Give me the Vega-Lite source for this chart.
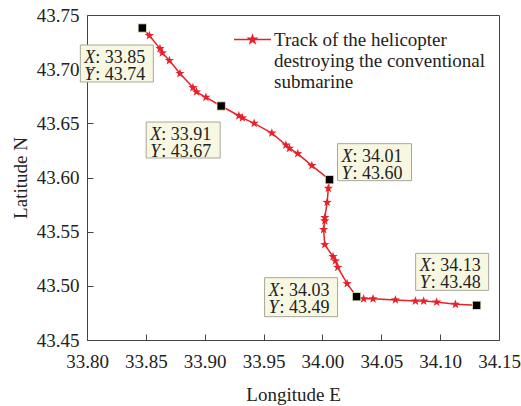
{
  "$schema": "https://vega.github.io/schema/vega-lite/v6.json",
  "width": 412,
  "height": 325,
  "autosize": {"type": "none"},
  "padding": {"left": 87, "top": 15, "right": 22, "bottom": 66},
  "background": "white",
  "data": {
    "values": [
      {"order": 1, "lon": 33.847, "lat": 43.738, "kind": "square", "id": 1, "series": "Track"},
      {"order": 2, "lon": 33.853, "lat": 43.731, "kind": "star", "series": "Track"},
      {"order": 3, "lon": 33.862, "lat": 43.719, "kind": "star", "series": "Track"},
      {"order": 4, "lon": 33.864, "lat": 43.715, "kind": "star", "series": "Track"},
      {"order": 5, "lon": 33.870, "lat": 43.708, "kind": "star", "series": "Track"},
      {"order": 6, "lon": 33.879, "lat": 43.696, "kind": "star", "series": "Track"},
      {"order": 7, "lon": 33.890, "lat": 43.683, "kind": "star", "series": "Track"},
      {"order": 8, "lon": 33.893, "lat": 43.679, "kind": "star", "series": "Track"},
      {"order": 9, "lon": 33.901, "lat": 43.674, "kind": "star", "series": "Track"},
      {"order": 10, "lon": 33.914, "lat": 43.666, "kind": "square", "id": 2, "series": "Track"},
      {"order": 11, "lon": 33.929, "lat": 43.657, "kind": "star", "series": "Track"},
      {"order": 12, "lon": 33.932, "lat": 43.655, "kind": "star", "series": "Track"},
      {"order": 13, "lon": 33.942, "lat": 43.650, "kind": "star", "series": "Track"},
      {"order": 14, "lon": 33.957, "lat": 43.641, "kind": "star", "series": "Track"},
      {"order": 15, "lon": 33.969, "lat": 43.630, "kind": "star", "series": "Track"},
      {"order": 16, "lon": 33.972, "lat": 43.627, "kind": "star", "series": "Track"},
      {"order": 17, "lon": 33.979, "lat": 43.622, "kind": "star", "series": "Track"},
      {"order": 18, "lon": 33.991, "lat": 43.611, "kind": "star", "series": "Track"},
      {"order": 19, "lon": 34.006, "lat": 43.598, "kind": "square", "id": 3, "series": "Track"},
      {"order": 20, "lon": 34.005, "lat": 43.590, "kind": "star", "series": "Track"},
      {"order": 21, "lon": 34.004, "lat": 43.577, "kind": "star", "series": "Track"},
      {"order": 22, "lon": 34.002, "lat": 43.563, "kind": "star", "series": "Track"},
      {"order": 23, "lon": 34.002, "lat": 43.560, "kind": "star", "series": "Track"},
      {"order": 24, "lon": 34.001, "lat": 43.552, "kind": "star", "series": "Track"},
      {"order": 25, "lon": 34.002, "lat": 43.538, "kind": "star", "series": "Track"},
      {"order": 26, "lon": 34.009, "lat": 43.527, "kind": "star", "series": "Track"},
      {"order": 27, "lon": 34.011, "lat": 43.523, "kind": "star", "series": "Track"},
      {"order": 28, "lon": 34.013, "lat": 43.517, "kind": "star", "series": "Track"},
      {"order": 29, "lon": 34.021, "lat": 43.502, "kind": "star", "series": "Track"},
      {"order": 30, "lon": 34.029, "lat": 43.490, "kind": "square", "id": 4, "series": "Track"},
      {"order": 31, "lon": 34.035, "lat": 43.488, "kind": "star", "series": "Track"},
      {"order": 32, "lon": 34.043, "lat": 43.488, "kind": "star", "series": "Track"},
      {"order": 33, "lon": 34.062, "lat": 43.487, "kind": "star", "series": "Track"},
      {"order": 34, "lon": 34.079, "lat": 43.486, "kind": "star", "series": "Track"},
      {"order": 35, "lon": 34.086, "lat": 43.486, "kind": "star", "series": "Track"},
      {"order": 36, "lon": 34.097, "lat": 43.485, "kind": "star", "series": "Track"},
      {"order": 37, "lon": 34.113, "lat": 43.483, "kind": "star", "series": "Track"},
      {"order": 38, "lon": 34.131, "lat": 43.482, "kind": "square", "id": 5, "series": "Track"}
    ]
  },
  "encoding": {
    "x": {
      "field": "lon", "type": "quantitative",
      "scale": {"domain": [33.8, 34.15], "nice": false, "zero": false},
      "axis": {"title": "Longitude E", "values": [33.8, 33.85, 33.9, 33.95, 34.0, 34.05, 34.1, 34.15], "format": ".2f",
        "titlePadding": 14, "labelOverlap": false, "labelFlush": false, "labelPadding": 12,
        "offset": -6, "domain": false, "ticks": true, "tickSize": 6, "tickWidth": 1, "tickColor": "#444", "zindex": 1}
    },
    "y": {
      "field": "lat", "type": "quantitative",
      "scale": {"domain": [43.45, 43.75], "nice": false, "zero": false},
      "axis": {"title": "Latitude N", "values": [43.45, 43.5, 43.55, 43.6, 43.65, 43.7, 43.75], "format": ".2f",
        "titlePadding": 6, "labelOverlap": false, "labelFlush": false, "labelPadding": 8,
        "offset": -6, "domain": false, "ticks": true, "tickSize": 6, "tickWidth": 1, "tickColor": "#444", "zindex": 1}
    }
  },
  "layer": [
    {
      "mark": {"type": "line", "color": "#e8202a", "strokeWidth": 1.5},
      "encoding": {"order": {"field": "order", "type": "quantitative"}}
    },
    {
      "transform": [{"filter": "datum.kind == 'star'"}],
      "mark": {"type": "point", "filled": true, "opacity": 1, "style": "star"},
      "encoding": {
        "color": {
          "field": "series", "type": "nominal",
          "scale": {"range": ["#e8202a"]},
          "legend": {
            "orient": "none", "legendX": 146, "legendY": 5, "title": null, "padding": 0,
            "symbolType": "M-1,0L1,0M0,-0.22L0.052,-0.071L0.209,-0.068L0.084,0.027L0.129,0.178L0,0.088L-0.129,0.178L-0.084,0.027L-0.209,-0.068L-0.052,-0.071Z",
            "symbolSize": 1369,
            "symbolStrokeColor": "#e8202a", "symbolStrokeWidth": 1.5, "symbolFillColor": "#e8202a",
            "labelExpr": "['Track of the helicopter', 'destroying the conventional', 'submarine']",
            "labelFont": "Liberation Serif", "labelFontSize": 19, "labelLineHeight": 20,
            "labelColor": "#222", "labelLimit": 0, "labelOffset": 2
          }
        }
      }
    },
    {
      "transform": [
        {"filter": "datum.kind == 'square'"},
        {"calculate": "[': ' + format(datum.lon, '.2f'), ': ' + format(datum.lat, '.2f')]", "as": "vals"}
      ],
      "layer": [
        {
          "mark": {"type": "point", "filled": true, "opacity": 1, "size": 4,
            "fill": "#f7f7e2", "stroke": "#a8a898", "strokeWidth": 1,
            "shape": {"expr": "['', 'M-62,17L11,17L11,54L-62,54Z', 'M-75,16L-1,16L-1,52L-75,52Z', 'M8,-36L82,-36L82,1L8,1Z', 'M-92,-19L-19,-19L-19,20L-92,20Z', 'M-61,-52L12,-52L12,-15L-61,-15Z'][datum.id]"}}
        },
        {
          "mark": {"type": "text", "text": ["X", "Y"], "fontStyle": "italic", "font": "Liberation Serif", "fontSize": 18, "lineHeight": 17, "align": "left", "baseline": "top", "color": "#222",
            "dx": {"expr": "[0, -58, -71, 12, -88, -57][datum.id]"},
            "dy": {"expr": "[0, 21, 20, -32, -15, -48][datum.id]"}}
        },
        {
          "mark": {"type": "text", "font": "Liberation Serif", "fontSize": 18, "lineHeight": 17, "align": "left", "baseline": "top", "color": "#222",
            "dx": {"expr": "[0, -47, -60, 23, -77, -46][datum.id]"},
            "dy": {"expr": "[0, 21, 20, -32, -15, -48][datum.id]"}},
          "encoding": {"text": {"field": "vals", "type": "nominal"}}
        },
        {
          "mark": {"type": "point", "shape": "square", "filled": true, "opacity": 1, "size": 70, "color": "black", "stroke": "#f0f0c8", "strokeWidth": 0.8}
        }
      ]
    }
  ],
  "config": {
    "style": {
      "star": {"shape": "M0,-1L0.235,-0.324L0.951,-0.309L0.38,0.124L0.588,0.809L0,0.4L-0.588,0.809L-0.38,0.124L-0.951,-0.309L-0.235,-0.324Z", "size": 95}
    },
    "view": {"stroke": "#444", "strokeWidth": 1},
    "axis": {
      "grid": false, "domainColor": "#444",
      "labelFont": "Liberation Serif", "labelFontSize": 19, "labelColor": "#222",
      "titleFont": "Liberation Serif", "titleFontSize": 19, "titleFontWeight": "normal", "titleColor": "#222"
    }
  }
}
